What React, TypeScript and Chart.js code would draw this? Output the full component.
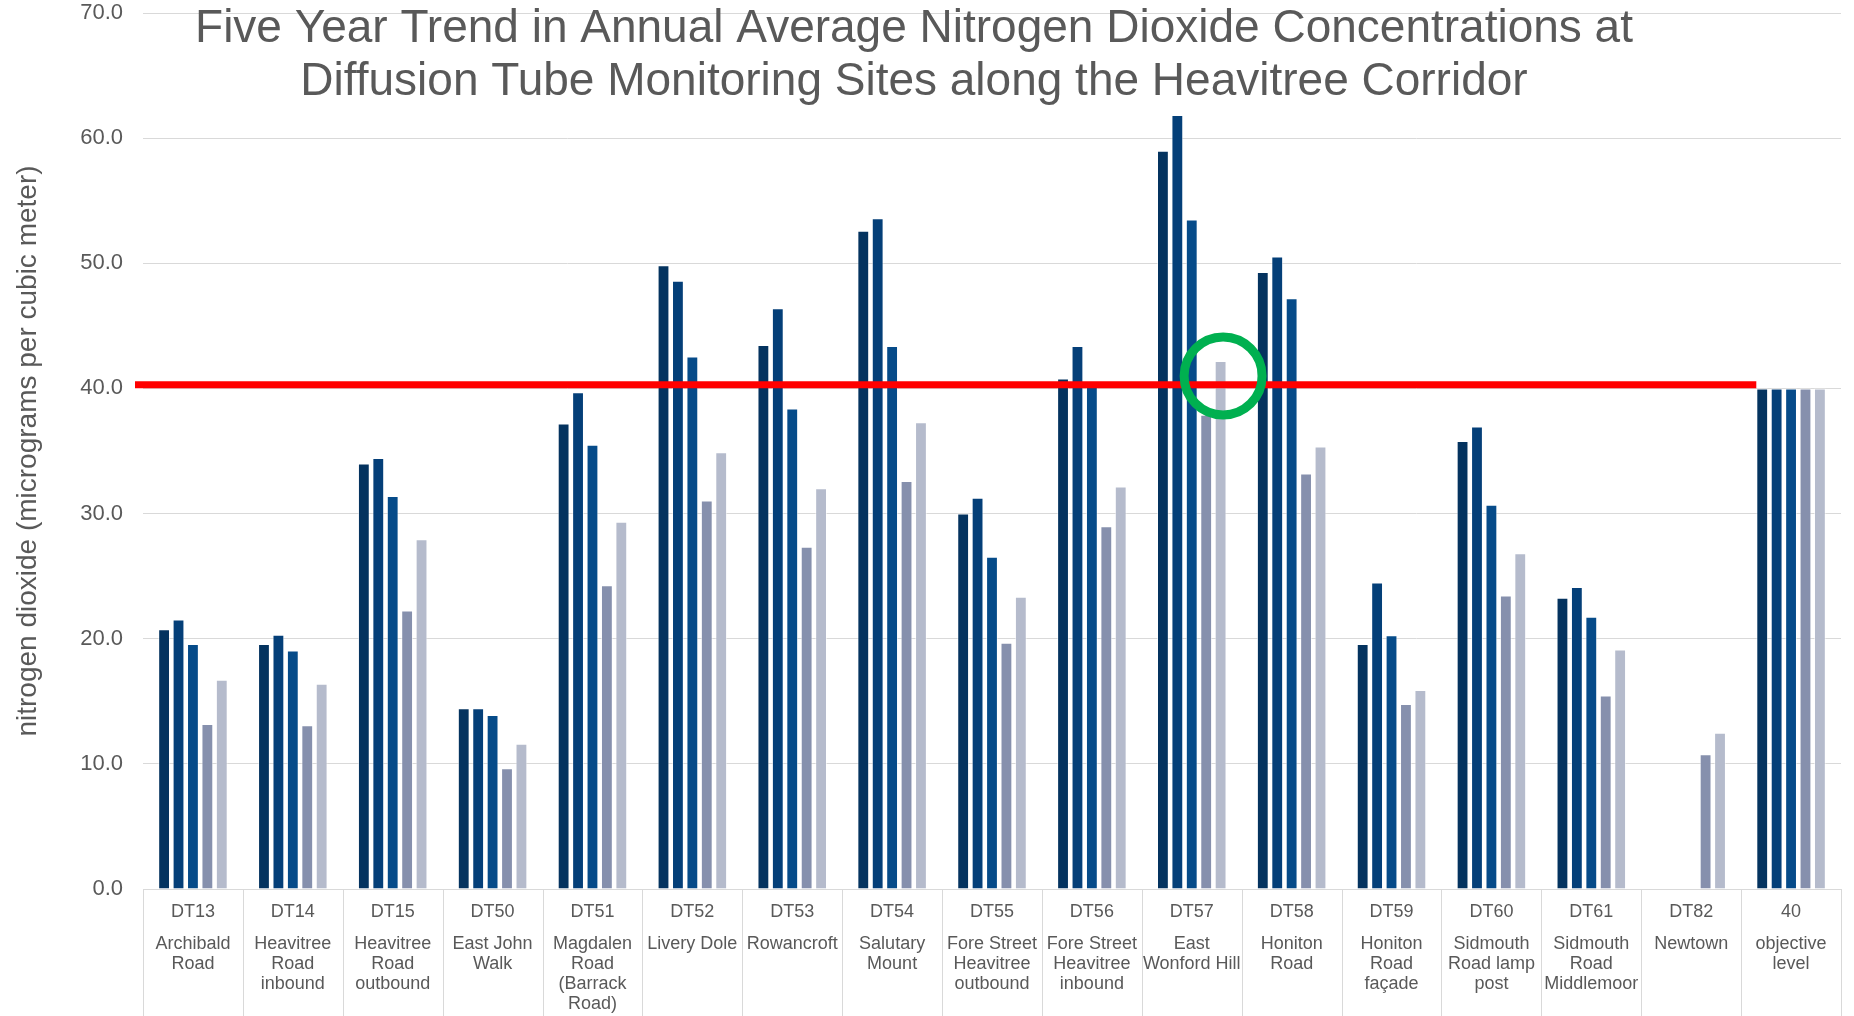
import React, { useEffect, useRef } from "react";
import { Chart, registerables } from "chart.js";

Chart.register(...registerables);

// ---------- data ----------
const titleLines = [
  "Five Year Trend in Annual Average Nitrogen Dioxide Concentrations at",
  "Diffusion Tube Monitoring Sites along the Heavitree Corridor",
];
const yAxisTitle = "nitrogen dioxide (micrograms per cubic meter)";

const siteCodes = [
  "DT13", "DT14", "DT15", "DT50", "DT51", "DT52", "DT53", "DT54", "DT55",
  "DT56", "DT57", "DT58", "DT59", "DT60", "DT61", "DT82", "40",
];
const siteNames = [
  ["Archibald", "Road"],
  ["Heavitree", "Road", "inbound"],
  ["Heavitree", "Road", "outbound"],
  ["East John", "Walk"],
  ["Magdalen", "Road", "(Barrack", "Road)"],
  ["Livery Dole"],
  ["Rowancroft"],
  ["Salutary", "Mount"],
  ["Fore Street", "Heavitree", "outbound"],
  ["Fore Street", "Heavitree", "inbound"],
  ["East", "Wonford Hill"],
  ["Honiton", "Road"],
  ["Honiton", "Road", "façade"],
  ["Sidmouth", "Road lamp", "post"],
  ["Sidmouth", "Road", "Middlemoor"],
  ["Newtown"],
  ["objective", "level"],
];

const seriesLabels = ["Year 1", "Year 2", "Year 3", "Year 4", "Year 5"];
const year1 = [20.75, 19.57, 34.0, 14.45, 37.2, 49.85, 43.47, 52.6, 30.0, 40.8, 59.0, 49.3, 19.57, 35.8, 23.27, null, 40];
const year2 = [21.54, 20.31, 34.45, 14.45, 39.7, 48.6, 46.4, 53.6, 31.26, 43.4, 61.85, 50.55, 24.5, 36.95, 24.14, null, 40];
const year3 = [19.57, 19.05, 31.4, 13.9, 35.5, 42.56, 38.4, 43.4, 26.55, 40.2, 53.5, 47.2, 20.28, 30.7, 21.76, null, 40];
const year4 = [13.19, 13.09, 22.26, 9.64, 24.28, 31.04, 27.35, 32.6, 19.68, 28.99, 37.9, 33.2, 14.78, 23.46, 15.47, 10.76, 40];
const year5 = [16.73, 16.4, 27.95, 11.6, 29.35, 34.9, 32.03, 37.3, 23.35, 32.16, 42.2, 35.35, 15.9, 26.83, 19.13, 12.48, 40];
const seriesColors = ["#04335F", "#043F78", "#064B89", "#8690AD", "#B5BBCC"];

const yMin = 0;
const yMax = 70;
const yStep = 10;

// hand-drawn annotations
const redLineValue = 40.3;
const circleSiteIndex = 10; // DT57
const circleSeriesIndex = 4;
const circleValue = 41;

const FONT = '"Liberation Sans", Arial, Helvetica, sans-serif';
const TEXT = "#595959";
const GRID = "#D9D9D9";

const decorPlugin = {
  id: "decor",
  afterDatasetsDraw(chart: any) {
    const ctx = chart.ctx;
    const { left } = chart.chartArea;
    const y = chart.scales.y;
    ctx.save();
    // red objective line
    const lastIdx = siteCodes.length - 1;
    const endBar = chart.getDatasetMeta(0).data[lastIdx];
    const ry = y.getPixelForValue(redLineValue);
    ctx.strokeStyle = "#FF0000";
    ctx.lineWidth = 7;
    ctx.beginPath();
    ctx.moveTo(left - 8, ry);
    ctx.lineTo(endBar.x - endBar.width / 2, ry);
    ctx.stroke();
    // green circle
    const cb = chart.getDatasetMeta(circleSeriesIndex).data[circleSiteIndex];
    const cy = y.getPixelForValue(circleValue);
    ctx.strokeStyle = "#00B050";
    ctx.lineWidth = 9;
    ctx.beginPath();
    ctx.arc(cb.x + 2.5, cy, 39, 0, Math.PI * 2);
    ctx.stroke();
    ctx.restore();
  },
  afterDraw(chart: any) {
    const ctx = chart.ctx;
    const { left, right, bottom } = chart.chartArea;
    const x = chart.scales.x;
    ctx.save();
    // separators in category label area
    ctx.strokeStyle = GRID;
    ctx.lineWidth = 1;
    const n = siteCodes.length;
    for (let i = 0; i <= n; i++) {
      let px: number;
      if (i === 0) px = left;
      else if (i === n) px = right;
      else px = (x.getPixelForValue(i - 1) + x.getPixelForValue(i)) / 2;
      px = Math.round(px) + 0.5;
      ctx.beginPath();
      ctx.moveTo(px, bottom);
      ctx.lineTo(px, chart.height);
      ctx.stroke();
    }
    // title
    ctx.fillStyle = TEXT;
    ctx.font = `46px ${FONT}`;
    ctx.textAlign = "center";
    ctx.textBaseline = "alphabetic";
    const cx = chart.width / 2 - 13;
    ctx.fillText(titleLines[0], cx, 42);
    ctx.fillText(titleLines[1], cx, 95);
    ctx.restore();
  },
};

export default function App() {
  const canvasRef = useRef<HTMLCanvasElement | null>(null);

  useEffect(() => {
    const canvas = canvasRef.current;
    if (!canvas) return;
    Chart.defaults.font.family = FONT;
    const allSeries = [year1, year2, year3, year4, year5];
    const chart = new Chart(canvas, {
      type: "bar",
      data: {
        labels: siteCodes,
        datasets: allSeries.map((d, i) => ({
          label: seriesLabels[i],
          data: d,
          backgroundColor: seriesColors[i],
          borderColor: "rgba(255,255,255,0.55)",
          borderWidth: 1,
          categoryPercentage: 0.722,
          barPercentage: 0.82,
          xAxisID: "x",
          yAxisID: "y",
        })),
      },
      options: {
        responsive: false,
        animation: false,
        devicePixelRatio: 1,
        layout: { padding: { left: 0, right: 13, top: 13, bottom: 0 } },
        plugins: {
          legend: { display: false },
          title: { display: false },
          tooltip: { enabled: false },
        },
        scales: {
          y: {
            min: yMin,
            max: yMax,
            grid: { color: GRID, lineWidth: 1, drawTicks: false },
            border: { display: false },
            ticks: {
              stepSize: yStep,
              padding: 20,
              color: TEXT,
              font: { size: 22, family: FONT },
              callback: (v: any) => Number(v).toFixed(1),
            },
            title: {
              display: true,
              text: yAxisTitle,
              color: TEXT,
              font: { size: 28, family: FONT },
              padding: { top: 11, bottom: 0 },
            },
            afterFit: (s: any) => {
              s.width = 143;
              s.paddingTop = 0;
              s.paddingBottom = 0;
            },
          },
          x: {
            type: "category",
            position: "bottom",
            weight: 0,
            offset: true,
            grid: { display: false },
            border: { display: true, color: GRID, width: 1 },
            ticks: {
              autoSkip: false,
              maxRotation: 0,
              minRotation: 0,
              padding: 4,
              color: TEXT,
              font: { size: 18, family: FONT },
            },
            afterFit: (s: any) => {
              s.height = 34;
            },
          },
          x2: {
            type: "category",
            position: "bottom",
            weight: 1,
            offset: true,
            labels: siteNames as any,
            grid: { display: false },
            border: { display: false },
            ticks: {
              autoSkip: false,
              maxRotation: 0,
              minRotation: 0,
              padding: 3,
              color: TEXT,
              font: { size: 18, family: FONT, lineHeight: 1.111 },
            },
            afterFit: (s: any) => {
              s.height = 93;
            },
          },
        },
      } as any,
      plugins: [decorPlugin],
    });
    return () => chart.destroy();
  }, []);

  return (
    <div
      style={{
        position: "fixed",
        left: 0,
        top: 0,
        width: 1854,
        height: 1016,
        background: "#ffffff",
      }}
    >
      <canvas ref={canvasRef} width={1854} height={1016} style={{ width: 1854, height: 1016, display: "block" }} />
    </div>
  );
}
